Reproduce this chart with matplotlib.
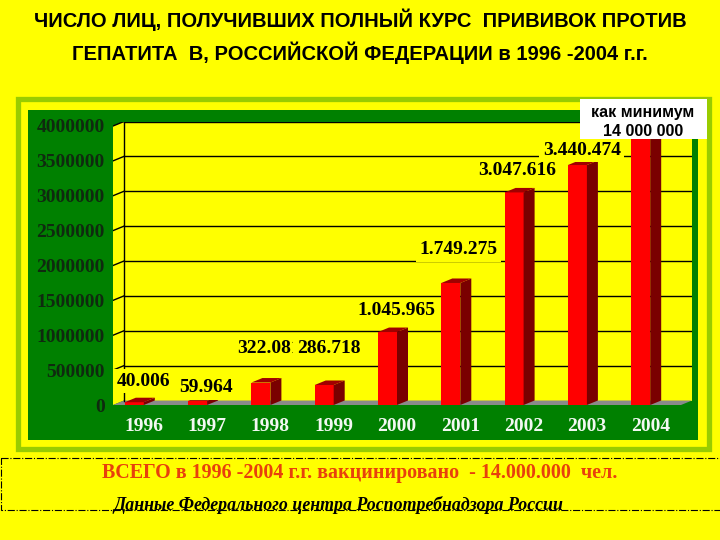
import matplotlib.pyplot as plt
from matplotlib.patches import Rectangle, Polygon

# данные
years = ['1996', '1997', '1998', '1999', '2000', '2001', '2002', '2003', '2004']
vaccinated = [40006, 59964, 322081, 286718, 1045965, 1749275, 3047616, 3440474, 4000000]
value_labels = ['40.006', '59.964', '322.081', '286.718', '1.045.965',
                '1.749.275', '3.047.616', '3.440.474', '']
yticks = [0, 500000, 1000000, 1500000, 2000000, 2500000, 3000000, 3500000, 4000000]

title1 = 'ЧИСЛО ЛИЦ, ПОЛУЧИВШИХ ПОЛНЫЙ КУРС  ПРИВИВОК ПРОТИВ'
title2 = 'ГЕПАТИТА  В, РОССИЙСКОЙ ФЕДЕРАЦИИ в 1996 -2004 г.г.'
total_text = 'ВСЕГО в 1996 -2004 г.г. вакцинировано  - 14.000.000  чел.'
source_text = 'Данные Федерального центра Роспотребнадзора России'
note_text = ['как минимум', '14 000 000']

# смещение подписей над столбцами (пиксели)
label_dx = [0, -1, -1, -5, -1, -2, -6, -5, 0]
label_dy = [21, 13, 34, 37, 22, 33, 22, 15, 0]

plt.rcParams['font.family'] = ['Liberation Serif', 'DejaVu Serif']

YELLOW = '#ffff00'
DGREEN = '#008000'
LGREEN = '#99cc00'

fig = plt.figure(figsize=(7.2, 5.4), dpi=100)
fig.patch.set_facecolor(YELLOW)

# фон, рамки и подписи в пикселях
bg = fig.add_axes([0, 0, 1, 1])
bg.set_xlim(0, 720)
bg.set_ylim(540, 0)
bg.axis('off')
bg.add_patch(Rectangle((17.5, 98.5), 691, 350, fc='none', ec=LGREEN, lw=3.8))
bg.add_patch(Rectangle((28, 110), 670, 330, fc=DGREEN, ec='none'))
bg.add_patch(Rectangle((1, 458), 730, 52, fc='none', ec='black', lw=0.8, ls='-.'))

bg.text(360, 20, title1, ha='center', va='center', fontsize=14.5, fontweight='bold',
        family=['Liberation Sans', 'DejaVu Sans'])
bg.text(360, 53, title2, ha='center', va='center', fontsize=14.5, fontweight='bold',
        family=['Liberation Sans', 'DejaVu Sans'])
bg.text(360, 473, total_text, ha='center', va='center', fontsize=14.4, fontweight='bold',
        color='#e8400c')
bg.text(338, 505, source_text, ha='center', va='center', fontsize=12.9, fontweight='bold',
        style='italic', color='black')

# область диаграммы (передняя плоскость)
px_unit = 63.3
i0 = 143.8
xl = (113 - i0) / px_unit
xr = (692 - i0) / px_unit
yscale = 279 / 4000000
dx = 11 / px_unit
dy = 4.5 / yscale
top = yticks[-1] + dy
w = 0.30

ax = fig.add_axes([113 / 720, (540 - 405) / 540, (692 - 113) / 720, (405 - 121.5) / 540])
ax.set_xlim(xl, xr)
ax.set_ylim(0, top)
ax.patch.set_alpha(0)
for s in ax.spines.values():
    s.set_visible(False)

# стены и пол
ax.add_patch(Rectangle((xl + dx, dy), xr - xl - dx, yticks[-1], fc=YELLOW, ec='none', zorder=0))
ax.add_patch(Polygon([(xl, 0), (xl + dx, dy), (xl + dx, top), (xl, yticks[-1])],
                     fc=YELLOW, ec='none', zorder=0))
ax.add_patch(Polygon([(xl, 0), (xr - dx, 0), (xr, dy), (xl + dx, dy)],
                     fc='#8a8a8a', ec='none', zorder=1))
ax.plot([xl + dx, xl + dx], [dy, top], color='black', lw=1, zorder=1)
for v in yticks[1:]:
    ax.plot([xl + dx, xr], [v + dy, v + dy], color='black', lw=1, zorder=1)
    ax.plot([xl, xl + dx], [v, v + dy], color='black', lw=1, zorder=1)

# объёмные столбцы
for i, v in enumerate(vaccinated):
    ax.add_patch(Rectangle((i - w, 0), w, v, fc='#ff0000', ec='none', zorder=3))
    ax.add_patch(Polygon([(i, 0), (i + dx, dy), (i + dx, v + dy), (i, v)],
                         fc='#7a0000', ec='none', zorder=3))
    ax.add_patch(Polygon([(i - w, v), (i - w + dx, v + dy), (i + dx, v + dy), (i, v)],
                         fc='#a00000', ec='none', zorder=3))

for i, v in enumerate(vaccinated):
    if value_labels[i]:
        ax.annotate(value_labels[i], (i, v), xytext=(label_dx[i], label_dy[i]),
                    textcoords='offset pixels', ha='center', va='center',
                    fontsize=14, fontweight='bold', color='black', zorder=5,
                    bbox=dict(boxstyle='square,pad=0.18', fc=YELLOW, ec='none'))

ax.set_xticks(range(len(years)))
ax.set_xticklabels(years, fontsize=14, fontweight='bold', color='#f2f8f2')
ax.set_yticks(yticks)
ax.set_yticklabels([str(v) for v in yticks], fontsize=14, fontweight='bold', color='#0f2a0f')
ax.tick_params(axis='x', length=0, pad=9.5)
ax.tick_params(axis='y', length=0, pad=6)

# белая плашка с примечанием
ov = fig.add_axes([0, 0, 1, 1])
ov.set_xlim(0, 720)
ov.set_ylim(540, 0)
ov.axis('off')
ov.add_patch(Rectangle((580, 99), 127, 40, fc='white', ec='none'))
ov.text(643, 112, note_text[0], ha='center', va='center', fontsize=11.5, fontweight='bold',
        family=['Liberation Sans', 'DejaVu Sans'])
ov.text(643, 131, note_text[1], ha='center', va='center', fontsize=11.5, fontweight='bold',
        family=['Liberation Sans', 'DejaVu Sans'])

fig.savefig('out.png', dpi=100, facecolor=YELLOW)
